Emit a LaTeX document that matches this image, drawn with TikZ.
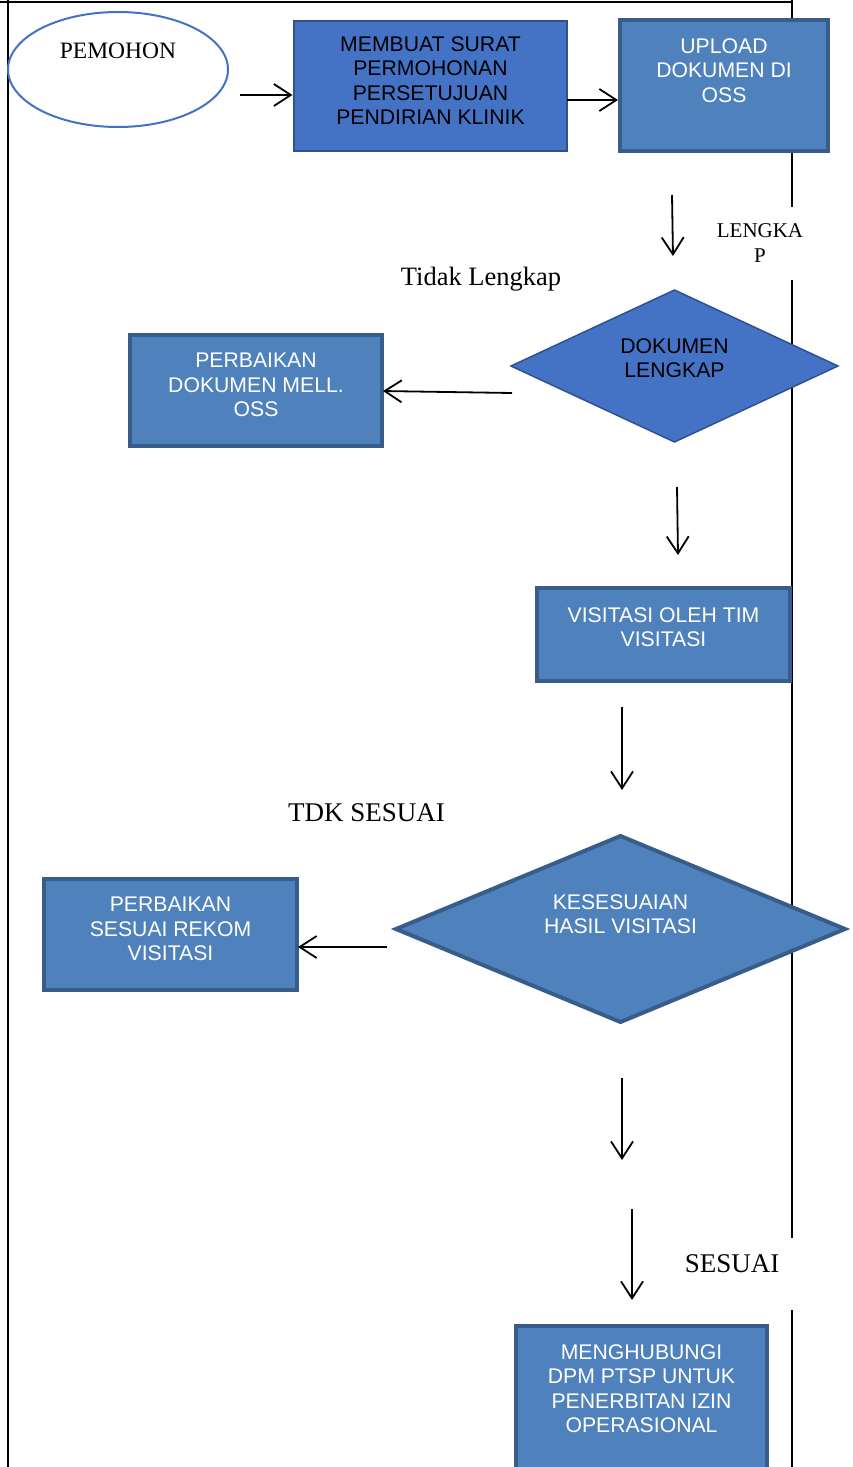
\documentclass[tikz,border=0pt]{standalone}
\usepackage{fontspec}
\setmainfont{Liberation Serif}
\newfontfamily\sansf{Liberation Sans}
\usetikzlibrary{shapes.geometric,arrows.meta}
\definecolor{bluA}{HTML}{4472C4}
\definecolor{bluAd}{HTML}{2F528F}
\definecolor{bluB}{HTML}{4F81BD}
\definecolor{bluBd}{HTML}{385D8A}
\newcommand\tbox[4]{\parbox[c][#2][t]{#1}{\centering\vspace*{#3}#4}}
\begin{document}
\begin{tikzpicture}[x=1pt,y=-1pt,
  boxtxt/.style={font=\sansf\fontsize{21.2}{24.5}\selectfont},
  abox/.style={rectangle, inner sep=0pt, outer sep=0pt, fill=bluA, draw=bluAd, line width=1.5pt, text=black, boxtxt},
  pbox/.style={rectangle, inner sep=0pt, outer sep=0pt, fill=bluB, draw=bluBd, line width=4pt, text=white, boxtxt},
  adia/.style={diamond, inner sep=0pt, outer sep=0pt, fill=bluA, draw=bluAd, line width=1.5pt, text=black, boxtxt},
  pdia/.style={diamond, inner sep=0pt, outer sep=0pt, fill=bluB, draw=bluBd, line width=4pt, text=white, boxtxt},
  lbl/.style={inner sep=0pt, font=\fontsize{26.5}{30}\selectfont},
  arr/.style={line width=1.8pt, -{Straight Barb[length=17pt,width=22pt]}},
  frame/.style={line width=2.2pt}
]
\clip (0,0) rectangle (852,1467);
% frame lines
\draw[frame] (0,2) -- (792,2);
\draw[frame] (8,0) -- (8,1467);
\draw[frame] (792,0) -- (792,207);
\draw[frame] (792,280) -- (792,1238);
\draw[frame] (792,1310) -- (792,1467);

% nodes
\node[ellipse, minimum width=220pt, minimum height=115pt, inner sep=0pt, draw=bluA, line width=2pt, fill=white,
      font=\fontsize{23.5}{27}\selectfont] (pm) at (118,69.5) {\tbox{130pt}{60pt}{3.6pt}{PEMOHON}};
\node[abox] (mk) at (430.5,86) {\tbox{273pt}{130pt}{15.4pt}{MEMBUAT SURAT\\PERMOHONAN\\PERSETUJUAN\\PENDIRIAN KLINIK}};
\node[pbox] (up) at (724,85.5) {\tbox{208pt}{131pt}{18.4pt}{UPLOAD\\DOKUMEN DI\\OSS}};
\node[adia, aspect=2.15, minimum width=327pt, minimum height=152pt] (dk) at (674.5,366) {\tbox{150pt}{60pt}{2.4pt}{DOKUMEN\\LENGKAP}};
\node[pbox] (pd) at (256,390.5) {\tbox{252pt}{111pt}{18.4pt}{PERBAIKAN\\DOKUMEN MELL.\\OSS}};
\node[pbox] (vs) at (663.5,634.5) {\tbox{253pt}{93pt}{19.4pt}{VISITASI OLEH TIM\\VISITASI}};
\node[pdia, aspect=2.41, minimum width=449pt, minimum height=186pt] (ks) at (620.5,929) {\tbox{200pt}{80pt}{5.4pt}{KESESUAIAN\\HASIL VISITASI}};
\node[pbox] (ps) at (170.5,934.5) {\tbox{253pt}{111pt}{18.4pt}{PERBAIKAN\\SESUAI REKOM\\VISITASI}};
\node[pbox] (mh) at (641.5,1406) {\tbox{251pt}{160pt}{18.4pt}{MENGHUBUNGI\\DPM PTSP UNTUK\\PENERBITAN IZIN\\OPERASIONAL}};

% labels
\node[lbl, anchor=base] (tl) at (481,285) {Tidak Lengkap};
\node[lbl, anchor=base, font=\fontsize{27}{30}\selectfont] (ts) at (366.5,821) {TDK SESUAI};
\node[lbl, anchor=base, font=\fontsize{27}{30}\selectfont] (ss) at (732,1272) {SESUAI};
\node[lbl, align=center, font=\fontsize{21}{24.5}\selectfont] (lk) at (760,242.8) {LENGKA\\P};

% connectors
\coordinate (a1) at (240,95);
\draw[arr, shorten >=1.5pt] (a1) -- (a1 -| mk.west);
\coordinate (a2) at (567,100);
\draw[arr, shorten >=2pt] (mk.east |- a2) -- (up.west |- a2);
\coordinate (a3s) at (672,195);
\coordinate (a3e) at (673,256);
\draw[arr] (a3s) -- (a3e);
\coordinate (a4s) at (512,393);
\coordinate (a4e) at (0,391);
\draw[arr, shorten >=1pt] (a4s) -- (pd.east |- a4e);
\coordinate (a5s) at (677,487);
\coordinate (a5e) at (678,555);
\draw[arr] (a5s) -- (a5e);
\coordinate (a6s) at (622,707);
\coordinate (a6e) at (622,790);
\draw[arr] (a6s) -- (a6e);
\coordinate (a7) at (387,947);
\draw[arr, shorten >=1pt] (a7) -- (a7 -| ps.east);
\coordinate (a8s) at (622,1078);
\coordinate (a8e) at (622,1160);
\draw[arr] (a8s) -- (a8e);
\coordinate (a9s) at (632,1209);
\coordinate (a9e) at (632,1300);
\draw[arr] (a9s) -- (a9e);
\end{tikzpicture}
\end{document}
